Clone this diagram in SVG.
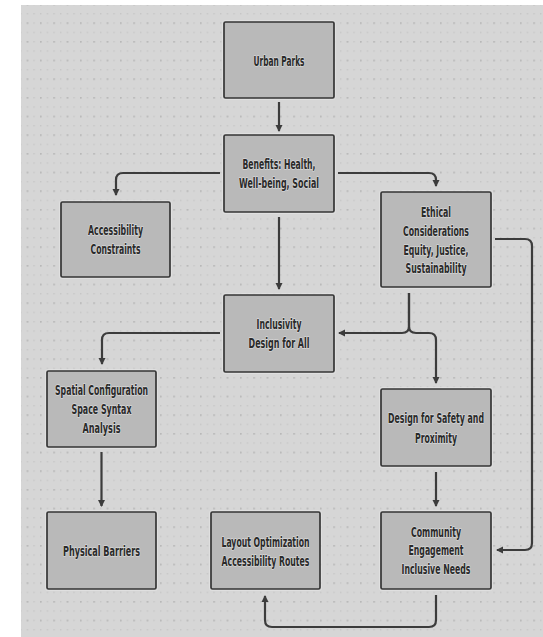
<svg xmlns="http://www.w3.org/2000/svg" width="543" height="637" viewBox="0 0 543 637">
<style>
.node rect.box{fill:#b9b9b9;stroke:#353535;stroke-width:1.7}
.node rect.halo{fill:none;stroke:#e4e4e4;stroke-width:4;opacity:.7}
.node text{font-family:"Liberation Sans Narrow","DejaVu Sans Condensed","Liberation Sans",sans-serif;font-size:13.5px;font-weight:bold;fill:#2a2a2a;text-anchor:middle;stroke:#eeeeee;stroke-width:1.6;stroke-opacity:.55;paint-order:stroke;stroke-linejoin:round}
.edge{fill:none;stroke:#3c3c3c;stroke-width:2.2;marker-end:url(#arr)}
</style>
<defs>
<marker id="arr" viewBox="0 0 8 8" refX="6" refY="4" markerWidth="8" markerHeight="8" markerUnits="userSpaceOnUse" orient="auto">
<path d="M0,0.5 L7,4 L0,7.5 z" fill="#3c3c3c"/>
</marker>
<pattern id="minor" x="0" y="3.67" width="6.667" height="9.333" patternUnits="userSpaceOnUse">
<rect x="0" y="0" width="1.4" height="1.4" fill="#c6c6c6"/>
</pattern>
<pattern id="major" x="0" y="3.67" width="13.333" height="18.667" patternUnits="userSpaceOnUse">
<rect x="0" y="0" width="1.6" height="1.6" fill="#b8b8b8"/>
</pattern>
</defs>
<rect x="0" y="0" width="543" height="637" fill="#ffffff"/>
<rect x="21" y="5" width="522" height="632" fill="#d6d6d6"/>
<rect x="21" y="5" width="522" height="632" fill="url(#minor)"/>
<rect x="21" y="5" width="522" height="632" fill="url(#major)"/>

<g id="connectors">
<path class="edge" d="M279 102 V131"/>
<path class="edge" d="M220 173 H123 Q116 173 116 180 V195"/>
<path class="edge" d="M338 173 H429 Q436 173 436 180 V186"/>
<path class="edge" d="M279 217 V289"/>
<path class="edge" d="M409 293 V326 Q409 333 402 333 H339"/>
<path class="edge" d="M409 293 V326 Q409 333 416 333 H429 Q436 333 436 340 V383"/>
<path class="edge" d="M220 333 H109 Q102 333 102 340 V364"/>
<path class="edge" d="M495 239 H525 Q532 239 532 246 V543 Q532 550 525 550 H497"/>
<path class="edge" d="M436 472 V506"/>
<path class="edge" d="M101.5 452 V506"/>
<path class="edge" d="M436 595 V620 Q436 627 429 627 H272 Q265 627 265 620 V596"/>
</g>

<g id="urban-parks" class="node">
<rect class="halo" x="224" y="22" width="110" height="76" rx="1.5"/>
<rect class="box" x="224" y="22" width="110" height="76" rx="1.5"/>
<text x="279" y="65.5" textLength="51" lengthAdjust="spacingAndGlyphs">Urban Parks</text>
</g>

<g id="benefits" class="node">
<rect class="halo" x="224" y="135" width="110" height="77" rx="1.5"/>
<rect class="box" x="224" y="135" width="110" height="77" rx="1.5"/>
<text x="279" y="169" textLength="73" lengthAdjust="spacingAndGlyphs">Benefits: Health,</text>
<text x="279" y="188" textLength="80" lengthAdjust="spacingAndGlyphs">Well-being, Social</text>
</g>

<g id="accessibility-constraints" class="node">
<rect class="halo" x="61" y="202" width="109" height="75" rx="1.5"/>
<rect class="box" x="61" y="202" width="109" height="75" rx="1.5"/>
<text x="115.5" y="234.5" textLength="55" lengthAdjust="spacingAndGlyphs">Accessibility</text>
<text x="115.5" y="253.5" textLength="50" lengthAdjust="spacingAndGlyphs">Constraints</text>
</g>

<g id="ethical-considerations" class="node">
<rect class="halo" x="381" y="192" width="110" height="95" rx="1.5"/>
<rect class="box" x="381" y="192" width="110" height="95" rx="1.5"/>
<text x="436" y="216.5" textLength="30" lengthAdjust="spacingAndGlyphs">Ethical</text>
<text x="436" y="235.5" textLength="66" lengthAdjust="spacingAndGlyphs">Considerations</text>
<text x="436" y="254.5" textLength="65" lengthAdjust="spacingAndGlyphs">Equity, Justice,</text>
<text x="436" y="272.5" textLength="61" lengthAdjust="spacingAndGlyphs">Sustainability</text>
</g>

<g id="inclusivity" class="node">
<rect class="halo" x="224" y="295" width="110" height="77" rx="1.5"/>
<rect class="box" x="224" y="295" width="110" height="77" rx="1.5"/>
<text x="279" y="328.5" textLength="45" lengthAdjust="spacingAndGlyphs">Inclusivity</text>
<text x="279" y="347.5" textLength="61" lengthAdjust="spacingAndGlyphs">Design for All</text>
</g>

<g id="spatial-configuration" class="node">
<rect class="halo" x="47" y="371" width="109" height="76" rx="1.5"/>
<rect class="box" x="47" y="371" width="109" height="76" rx="1.5"/>
<text x="101.5" y="394.5" textLength="93" lengthAdjust="spacingAndGlyphs">Spatial Configuration</text>
<text x="101.5" y="413.5" textLength="60" lengthAdjust="spacingAndGlyphs">Space Syntax</text>
<text x="101.5" y="432.5" textLength="38" lengthAdjust="spacingAndGlyphs">Analysis</text>
</g>

<g id="design-safety" class="node">
<rect class="halo" x="381" y="389" width="110" height="77" rx="1.5"/>
<rect class="box" x="381" y="389" width="110" height="77" rx="1.5"/>
<text x="436" y="422.5" textLength="96" lengthAdjust="spacingAndGlyphs">Design for Safety and</text>
<text x="436" y="442.5" textLength="42" lengthAdjust="spacingAndGlyphs">Proximity</text>
</g>

<g id="physical-barriers" class="node">
<rect class="halo" x="47" y="512" width="109" height="77" rx="1.5"/>
<rect class="box" x="47" y="512" width="109" height="77" rx="1.5"/>
<text x="101.5" y="555.5" textLength="77" lengthAdjust="spacingAndGlyphs">Physical Barriers</text>
</g>

<g id="layout-optimization" class="node">
<rect class="halo" x="211" y="512" width="109" height="77" rx="1.5"/>
<rect class="box" x="211" y="512" width="109" height="77" rx="1.5"/>
<text x="265.5" y="546.5" textLength="88" lengthAdjust="spacingAndGlyphs">Layout Optimization</text>
<text x="265.5" y="565.5" textLength="88" lengthAdjust="spacingAndGlyphs">Accessibility Routes</text>
</g>

<g id="community-engagement" class="node">
<rect class="halo" x="381" y="512" width="110" height="77" rx="1.5"/>
<rect class="box" x="381" y="512" width="110" height="77" rx="1.5"/>
<text x="436" y="536.5" textLength="50" lengthAdjust="spacingAndGlyphs">Community</text>
<text x="436" y="554.5" textLength="55" lengthAdjust="spacingAndGlyphs">Engagement</text>
<text x="436" y="573.5" textLength="69" lengthAdjust="spacingAndGlyphs">Inclusive Needs</text>
</g>
</svg>
